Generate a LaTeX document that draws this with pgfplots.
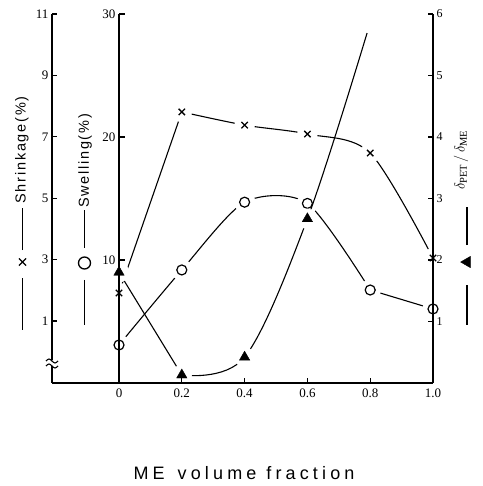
\documentclass[border=0pt]{standalone}
\usepackage{pgfplots}
\pgfplotsset{compat=1.18}
\usepackage{fontspec}
\setmainfont{Liberation Serif}
\newfontfamily\xlabelfont[LetterSpace=23]{Liberation Sans}
\newfontfamily\ylabelfont[LetterSpace=12]{Liberation Sans}

% Shared frames: shrinkage axis (left, spans the whole baseline),
% swelling and delta axes (from x = 0 to x = 1).
\pgfplotsset{
  boxA/.style={scale only axis, width=381pt, height=369pt,
    xmin=-0.2134, xmax=1, ymin=-1.02, ymax=11,
    clip=false, at={(52pt,103pt)}, anchor=south west},
  boxS/.style={scale only axis, width=314pt, height=369pt,
    xmin=0, xmax=1, ymin=0, ymax=30,
    clip=false, at={(119pt,103pt)}, anchor=south west},
  boxD/.style={boxS, ymin=0, ymax=6},
  curve/.style={black, line width=1.1pt, mark=none},
  halo/.style={only marks, mark=*, mark size=#1,
    mark options={draw=white, fill=white}},
  xmk/.style={only marks, mark=x, mark size=4.5pt,
    mark options={black, line width=1.3pt}},
  omk/.style={only marks, mark=o, mark size=5pt,
    mark options={black, line width=1.2pt}},
  tmk/.style={only marks, mark=triangle*, mark size=6pt,
    mark options={black, fill=black}},
  keylegend/.style={legend style={draw=none, fill=none, at={#1}, anchor=center,
    inner sep=0pt, outer sep=0pt, nodes={inner sep=0pt, outer sep=0pt}}},
}

\pgfplotstableread{
x     shr
0     1.91
0.2   7.81
0.4   7.38
0.6   7.09
0.8   6.47
1.0   3.05
}\shrinkage

\pgfplotstableread{
x     sw
0     3.09
0.2   9.19
0.4   14.7
0.6   14.6
0.8   7.56
1.0   6.02
}\swelling

\pgfplotstableread{
x     d
0     1.80
0.2   0.13
0.4   0.42
0.6   2.67
}\deltaratio

\begin{document}
\begin{tikzpicture}[x=1pt, y=1pt]
\useasboundingbox (0,0) rectangle (482,486);

% ---- shrinkage (crosses): curve, then marks with a white gap ----
\begin{axis}[boxA, hide axis]
\addplot[curve] coordinates {(0,1.91) (0.2,7.81)};
\addplot[curve, smooth, tension=0.5] coordinates {
  (0.2,7.81) (0.4,7.38) (0.6,7.09) (0.8,6.47) (1.0,3.05)};
\end{axis}
\begin{axis}[boxA, hide axis]
\addplot[halo=10pt] table[x=x, y=shr] {\shrinkage};
\addplot[xmk] table[x=x, y=shr] {\shrinkage};
\end{axis}

% ---- swelling (open circles) ----
\begin{axis}[boxS, hide axis]
\addplot[curve, smooth, tension=0.45] coordinates {
  (0,3.09) (0.2,9.19) (0.4,14.7) (0.6,14.6) (0.8,7.56)};
\addplot[curve] coordinates {(0.8,7.56) (1.0,6.02)};
\end{axis}
\begin{axis}[boxS, hide axis]
\addplot[halo=10.5pt] table[x=x, y=sw] {\swelling};
\addplot[omk] table[x=x, y=sw] {\swelling};
\end{axis}

% ---- delta_PET / delta_ME (filled triangles) ----
\begin{axis}[boxD, hide axis]
\addplot[curve] coordinates {(0,1.80) (0.2,0.13)};
\addplot[curve, smooth, tension=0.55] coordinates {
  (0.2,0.13) (0.4,0.42) (0.6,2.67) (0.79,5.69)};
\end{axis}
\begin{axis}[boxD, hide axis]
\addplot[halo=10pt] table[x=x, y=d] {\deltaratio};
\addplot[tmk] table[x=x, y=d] {\deltaratio};
\end{axis}

% ---- visible axes ----
\begin{axis}[boxA,
  axis x line*=bottom, axis y line*=left,
  axis line style={black, line width=1.6pt},
  xtick={0,0.2,0.4,0.6,0.8,1}, xticklabels={0,0.2,0.4,0.6,0.8,1.0},
  ytick={1,3,5,7,9,11}, yticklabels={1,3,5,7,9,11},
  tick align=inside, major tick length=5pt,
  tick style={black, line width=1.2pt},
  xticklabel style={font=\fontsize{13}{13}\selectfont, yshift=-2pt},
  yticklabel style={font=\fontsize{13}{13}\selectfont},
  keylegend={(axis description cs:-0.0761,0.3089)}]
\addlegendimage{legend image code/.code={
  \draw[black, line width=1.4pt] (0pt,12pt) -- (0pt,54pt) (0pt,-16pt) -- (0pt,-68pt);
  \draw[black, mark=x, mark size=5pt, mark options={line width=1.3pt}]
    plot coordinates {(0pt,0pt)};}}
\addlegendentry{}
\end{axis}

\begin{axis}[boxS,
  axis x line=none, axis y line*=left,
  axis line style={black, line width=1.6pt},
  ytick={10,20,30}, yticklabels={10,20,30},
  tick align=inside, major tick length=6pt,
  tick style={black, line width=1.2pt},
  yticklabel style={font=\fontsize{13}{13}\selectfont},
  keylegend={(axis description cs:-0.1083,0.313)}]
\addlegendimage{legend image code/.code={
  \draw[black, line width=1.4pt] (0pt,15pt) -- (0pt,53pt) (0pt,-17pt) -- (0pt,-62pt);
  \draw[black, mark=o, mark size=6pt, mark options={line width=1.3pt}]
    plot coordinates {(0pt,0pt)};}}
\addlegendentry{}
\end{axis}

\begin{axis}[boxD,
  axis x line=none, axis y line*=right,
  axis line style={black, line width=1.6pt},
  ytick={1,2,3,4,5,6}, yticklabels={1,2,3,4,5,6},
  tick align=inside, major tick length=5pt,
  tick style={black, line width=1.2pt},
  yticklabel style={font=\fontsize{12}{12}\selectfont},
  keylegend={(axis description cs:1.105,0.317)}]
\addlegendimage{legend image code/.code={
  \draw[black, line width=1.4pt] (0pt,17pt) -- (0pt,55pt) (0pt,-23pt) -- (0pt,-63pt);
  \draw[black, mark=triangle*, mark size=6.5pt, mark options={fill=black, rotate=90}]
    plot coordinates {(0pt,0pt)};}}
\addlegendentry{}
\end{axis}

% break in the shrinkage axis
\fill[white] (46,119.5) rectangle (58,125.5);
\draw[black, line width=1.1pt] (46,125) sin (49,127) cos (52,125) sin (55,123) cos (58,125);
\draw[black, line width=1.1pt] (46,120) sin (49,122) cos (52,120) sin (55,118) cos (58,120);

% axis titles
\node[rotate=90, font=\ylabelfont\fontsize{14.5}{14.5}\selectfont] at (22,336) {Shrinkage(\%)};
\node[rotate=90, font=\ylabelfont\fontsize{14.5}{14.5}\selectfont] at (85,325) {Swelling(\%)};
\node[rotate=90, font=\fontsize{15}{15}\selectfont] at (461,326)
  {$\delta_{\mathrm{PET}}\,/\,\delta_{\mathrm{ME}}$};
\node[font=\xlabelfont\fontsize{18}{18}\selectfont] at (244,12.5)
  {ME\hspace{13pt}volume\hspace{10pt}fraction};
\end{tikzpicture}
\end{document}
